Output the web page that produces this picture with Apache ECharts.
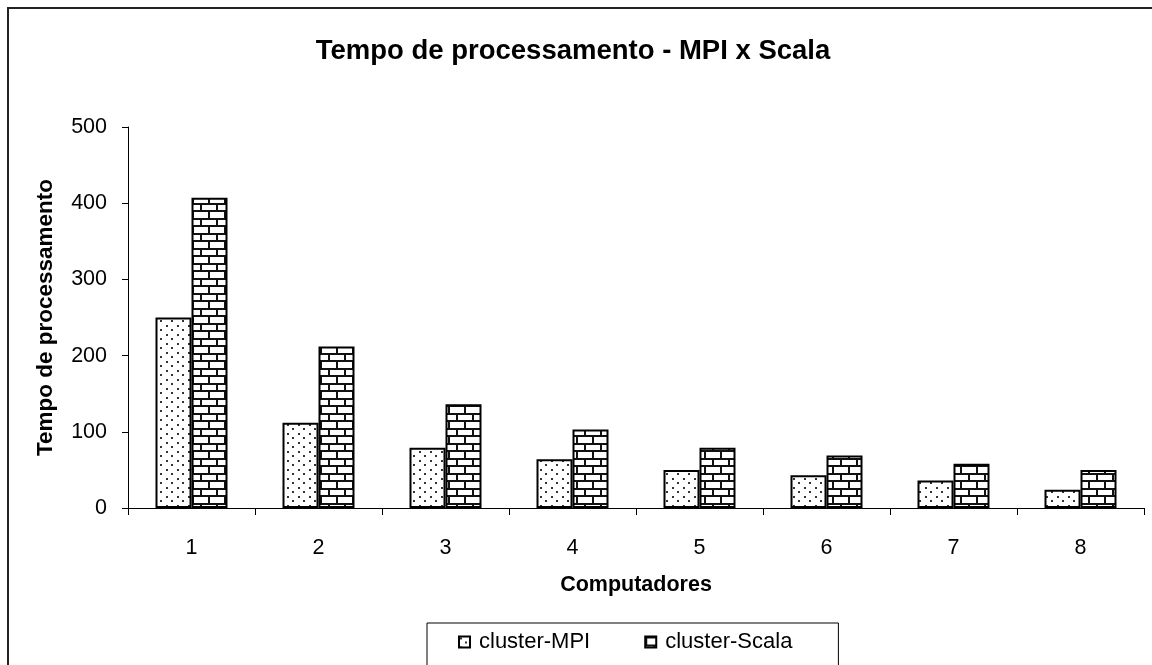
<!DOCTYPE html>
<html>
<head>
<meta charset="utf-8">
<style>
  html, body { margin: 0; padding: 0; background: #fff; }
  #chart { width: 1152px; height: 665px; }
</style>
<script src="https://cdn.jsdelivr.net/npm/echarts@6/dist/echarts.min.js"></script>
</head>
<body>
<div id="chart"></div>
<script>
// Processing time per number of computers
const computers = ['1', '2', '3', '4', '5', '6', '7', '8'];
const clusterMPI = [250, 112, 79, 64, 50, 43, 36, 24];
const clusterScala = [407, 212, 136, 103, 79, 69, 58, 50];
const yTicks = { min: 0, max: 500, interval: 100 };

const FONT = '"Liberation Sans", Arial, sans-serif';

// Dotted fill: gray dots on a staggered lattice
function dotPattern() {
  const c = document.createElement('canvas');
  c.width = 11; c.height = 9;
  const g = c.getContext('2d');
  g.fillStyle = '#fff';
  g.fillRect(0, 0, 11, 9);
  g.fillStyle = '#333';
  g.fillRect(1, 1, 2, 2);
  g.fillRect(6, 5, 2, 2);
  return c;
}

// Brick fill: black mortar lines, staggered bricks
function brickPattern() {
  const w = 32, h = 30, row = 7.5, brick = 16;
  const c = document.createElement('canvas');
  c.width = w; c.height = h;
  const g = c.getContext('2d');
  g.fillStyle = '#fff';
  g.fillRect(0, 0, w, h);
  g.fillStyle = '#111';
  for (let r = 0; r < 4; r++) {
    const y = Math.round(r * row);
    g.fillRect(0, y, w, 2);
    const off = (r % 2) ? brick / 2 : 0;
    for (let x = off; x < w; x += brick) {
      g.fillRect(Math.round(x), y, 2, Math.round(row));
    }
  }
  return c;
}

const chart = echarts.init(document.getElementById('chart'), null, { renderer: 'canvas' });

chart.setOption({
  animation: false,
  backgroundColor: '#fff',
  title: {
    text: 'Tempo de processamento - MPI x Scala',
    left: 568,
    textAlign: 'center',
    top: 32,
    textStyle: { fontFamily: FONT, fontWeight: 'bold', fontSize: 27.5, color: '#000' }
  },
  graphic: [{
    type: 'rect',
    shape: { x: 8, y: 8, width: 1300, height: 800 },
    style: { fill: 'none', stroke: '#222', lineWidth: 2 },
    silent: true
  }],
  legend: {
    left: 427,
    top: 623,
    orient: 'horizontal',
    padding: [8, 46, 40, 31],
    borderColor: '#000',
    borderWidth: 1,
    itemWidth: 11,
    itemHeight: 11,
    itemGap: 54,
    icon: 'rect',
    textStyle: { fontFamily: FONT, fontSize: 22, color: '#000', padding: [0, 0, 0, 4] },
    data: ['cluster-MPI', 'cluster-Scala']
  },
  grid: { left: 128, right: 8, top: 127, bottom: 157, containLabel: false },
  xAxis: {
    type: 'category',
    data: computers,
    name: 'Computadores',
    nameLocation: 'middle',
    nameGap: 66,
    nameTextStyle: { fontFamily: FONT, fontWeight: 'bold', fontSize: 21.5, color: '#000' },
    axisLine: { lineStyle: { color: '#000', width: 1 } },
    axisTick: { show: true, length: 7, lineStyle: { color: '#000' } },
    axisLabel: { fontFamily: FONT, fontSize: 21.5, color: '#000', margin: 29 }
  },
  yAxis: {
    type: 'value',
    min: yTicks.min,
    max: yTicks.max,
    interval: yTicks.interval,
    name: 'Tempo de processamento',
    nameLocation: 'middle',
    nameGap: 71,
    nameTextStyle: { fontFamily: FONT, fontWeight: 'bold', fontSize: 22.5, color: '#000' },
    axisLine: { show: true, lineStyle: { color: '#000', width: 1 } },
    axisTick: { show: true, length: 6, lineStyle: { color: '#000' } },
    splitLine: { show: false },
    axisLabel: { fontFamily: FONT, fontSize: 21.5, color: '#000', margin: 21 }
  },
  series: [
    {
      name: 'cluster-MPI',
      type: 'bar',
      data: clusterMPI,
      barWidth: 36,
      barGap: '0%',
      itemStyle: {
        color: { image: dotPattern(), repeat: 'repeat' },
        borderColor: '#000',
        borderWidth: 2
      }
    },
    {
      name: 'cluster-Scala',
      type: 'bar',
      data: clusterScala,
      barWidth: 36,
      barGap: '0%',
      itemStyle: {
        color: { image: brickPattern(), repeat: 'repeat' },
        borderColor: '#000',
        borderWidth: 2
      }
    }
  ]
});
</script>
</body>
</html>
